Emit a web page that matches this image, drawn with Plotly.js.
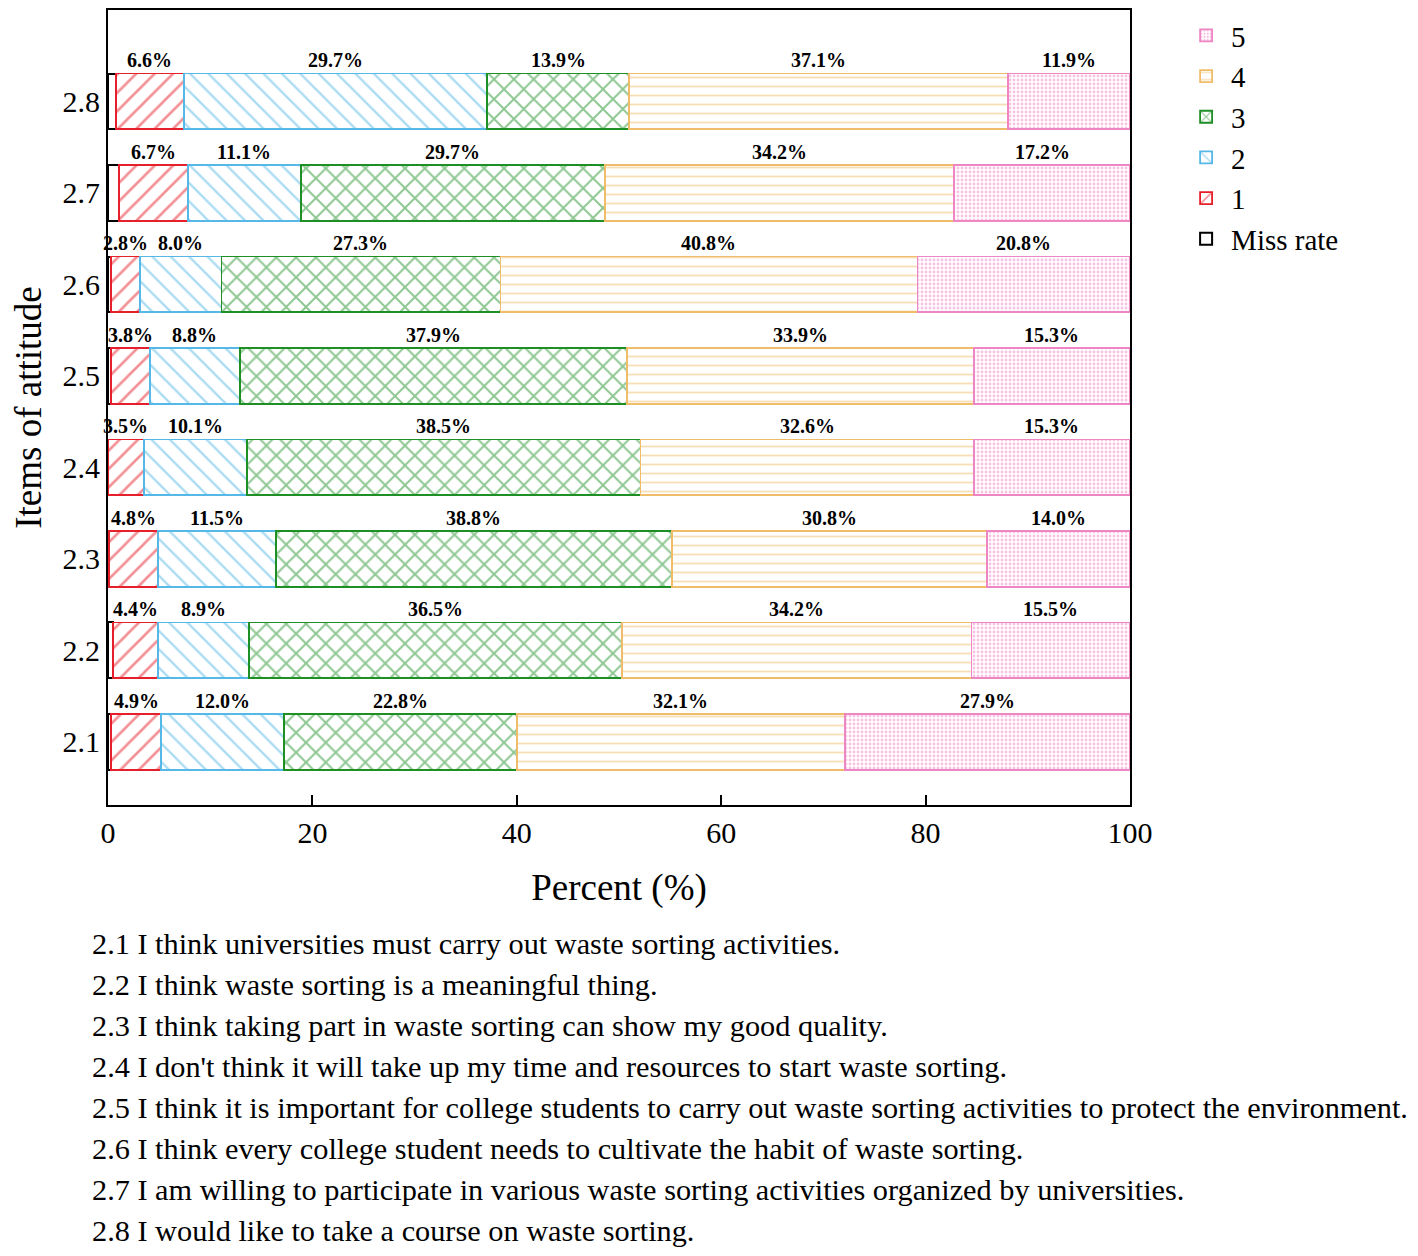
<!DOCTYPE html>
<html>
<head>
<meta charset="utf-8">
<script src="https://cdn.plot.ly/plotly-3.0.1.min.js"></script>
<style>
  body { margin: 0; background: #fff; }
  #chart { width: 1418px; height: 1256px; }
</style>
</head>
<body>
<div id="chart"></div>
<script>
// items, bottom to top
var items = ['2.1', '2.2', '2.3', '2.4', '2.5', '2.6', '2.7', '2.8'];

// percent per answer level, same order as items
var missRate = [0.3, 0.5, 0.1, 0.0, 0.3, 0.3, 1.1, 0.8];
var level1 = [4.9, 4.4, 4.8, 3.5, 3.8, 2.8, 6.7, 6.6];
var level2 = [12.0, 8.9, 11.5, 10.1, 8.8, 8.0, 11.1, 29.7];
var level3 = [22.8, 36.5, 38.8, 38.5, 37.9, 27.3, 29.7, 13.9];
var level4 = [32.1, 34.2, 30.8, 32.6, 33.9, 40.8, 34.2, 37.1];
var level5 = [27.9, 15.5, 14.0, 15.3, 15.3, 20.8, 17.2, 11.9];

var notes = [
  '2.1 I think universities must carry out waste sorting activities.',
  '2.2 I think waste sorting is a meaningful thing.',
  '2.3 I think taking part in waste sorting can show my good quality.',
  "2.4 I don't think it will take up my time and resources to start waste sorting.",
  '2.5 I think it is important for college students to carry out waste sorting activities to protect the environment.',
  '2.6 I think every college student needs to cultivate the habit of waste sorting.',
  '2.7 I am willing to participate in various waste sorting activities organized by universities.',
  '2.8 I would like to take a course on waste sorting.'
];

var serif = "'Liberation Serif', 'Times New Roman', serif";

var series = [
  {name: 'Miss rate', vals: missRate, color: '#000000', shape: '', size: 8, sol: 0.1, label: false},
  {name: '1', vals: level1, color: '#e5202a', shape: '/', size: 13, sol: 0.2, label: true},
  {name: '2', vals: level2, color: '#55b8e6', shape: '\\', size: 13, sol: 0.18, label: true},
  {name: '3', vals: level3, color: '#1d8f25', shape: 'x', size: 14, sol: 0.26, label: true},
  {name: '4', vals: level4, color: '#efbd6a', shape: '-', size: 9, sol: 0.2, label: true},
  {name: '5', vals: level5, color: '#ee86c4', shape: '.', size: 4, sol: 0.4, label: true}
];

var traces = [];
var annotations = [];
var base = items.map(function () { return 0; });

series.forEach(function (s) {
  traces.push({
    type: 'bar',
    orientation: 'h',
    name: s.name,
    y: items.map(function (d, i) { return i; }),
    x: s.vals,
    marker: {
      color: '#ffffff',
      line: {color: s.color, width: s.name === 'Miss rate' ? 2 : 1.8},
      pattern: {
        shape: s.shape,
        fgcolor: s.color,
        bgcolor: '#ffffff',
        size: s.size,
        solidity: s.sol,
        fillmode: 'overlay'
      }
    },
    hoverinfo: 'x+name'
  });
  s.vals.forEach(function (v, i) {
    if (s.label) {
      annotations.push({
        x: base[i] + v / 2,
        y: i + 0.45,
        xref: 'x', yref: 'y',
        text: '<b>' + v.toFixed(1) + '%</b>',
        showarrow: false,
        font: {family: serif, size: 20, color: '#000'},
        yanchor: 'middle'
      });
    }
    base[i] += v;
  });
});

notes.forEach(function (t, i) {
  annotations.push({
    xref: 'paper', yref: 'paper',
    x: -0.0176, y: -0.175 - i * 0.0516,
    xanchor: 'left', yanchor: 'middle',
    text: t,
    showarrow: false,
    font: {family: serif, size: 30.3, color: '#000'}
  });
});

var layout = {
  barmode: 'stack',
  bargap: 0.39,
  paper_bgcolor: '#ffffff',
  plot_bgcolor: '#ffffff',
  margin: {l: 108, r: 288, t: 10, b: 451},
  font: {family: serif, color: '#000'},
  xaxis: {
    range: [0, 100],
    tickvals: [0, 20, 40, 60, 80, 100],
    ticks: 'inside',
    ticklen: 10,
    tickwidth: 2,
    tickcolor: '#000',
    tickfont: {family: serif, size: 30},
    showgrid: false,
    zeroline: false,
    showline: true,
    linecolor: '#000',
    linewidth: 2,
    mirror: true,
    title: {text: 'Percent (%)', font: {family: serif, size: 37}, standoff: 26}
  },
  yaxis: {
    range: [-0.69, 8.0],
    tickvals: items.map(function (d, i) { return i; }),
    ticktext: items,
    ticks: '',
    tickfont: {family: serif, size: 30},
    showgrid: false,
    zeroline: false,
    showline: true,
    linecolor: '#000',
    linewidth: 2,
    mirror: true,
    title: {text: 'Items of attitude', font: {family: serif, size: 37}, standoff: 10}
  },
  legend: {
    x: 1.05, y: 1.0,
    xanchor: 'left', yanchor: 'top',
    traceorder: 'reversed',
    font: {family: serif, size: 29},
    itemwidth: 40,
    bgcolor: 'rgba(0,0,0,0)'
  },
  annotations: annotations,
  showlegend: true
};

Plotly.newPlot('chart', traces, layout, {displayModeBar: false});
</script>
</body>
</html>
